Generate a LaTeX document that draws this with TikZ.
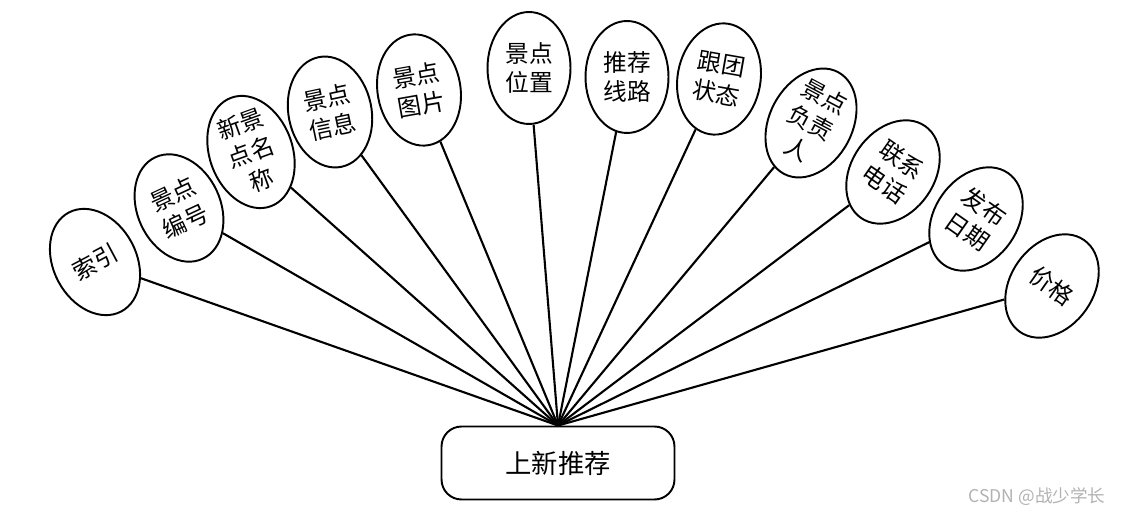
\documentclass[tikz,border=0pt]{standalone}
\usepackage{fontspec}
\setmainfont{Noto Sans CJK SC}
\usetikzlibrary{shapes.geometric}

\begin{document}
\begin{tikzpicture}[x=0.02cm, y=-0.02cm,
    attr/.style={ellipse, draw=black, line width=1.1pt, fill=white,
                 minimum width=1.66cm, minimum height=2.24cm, inner sep=0pt,
                 align=center, font=\fontsize{13.5}{17}\selectfont, rotate=#1},
    entity/.style={rectangle, rounded corners=0.4cm, draw=black, line width=1.1pt,
                   minimum width=4.66cm, minimum height=1.46cm,
                   font=\fontsize{15}{17}\selectfont},
    link/.style={-, line width=1.2pt}
]
\useasboundingbox (0,0) rectangle (1121,516);

% Entity
\node[entity] (tuijian) at (558,463) {上新推荐};

% Attributes, left to right
\node[attr=28] (suoyin) at (95,262) {索引};
\node[attr=25] (bianhao) at (179,208) {景点\\编号};
\node[attr=20] (mingcheng) at (251,152) {新景\\点名\\称};
\node[attr=12] (xinxi) at (330,112) {景点\\信息};
\node[attr=10] (tupian) at (419,90) {景点\\图片};
\node[attr=0] (weizhi) at (529,68) {景点\\位置};
\node[attr=0] (xianlu) at (627,77) {推荐\\线路};
\node[attr=-10] (zhuangtai) at (719,79) {跟团\\状态};
\node[attr=-28] (fuzeren) at (811,123) {景点\\负责\\人};
\node[attr=-35] (dianhua) at (893,172) {联系\\电话};
\node[attr=-35] (riqi) at (976,219) {发布\\日期};
\node[attr=-35] (jiage) at (1052,286) {价格};

% Connections
\foreach \n in {suoyin,bianhao,mingcheng,xinxi,tupian,weizhi,xianlu,zhuangtai,fuzeren,dianhua,riqi,jiage}
    \draw[link] (\n) -- (tuijian.north);

% Watermark
\node[text=gray!60, font=\fontsize{10}{12}\selectfont] (mark) at (1037,497) {CSDN @战少学长};

\end{tikzpicture}
\end{document}
